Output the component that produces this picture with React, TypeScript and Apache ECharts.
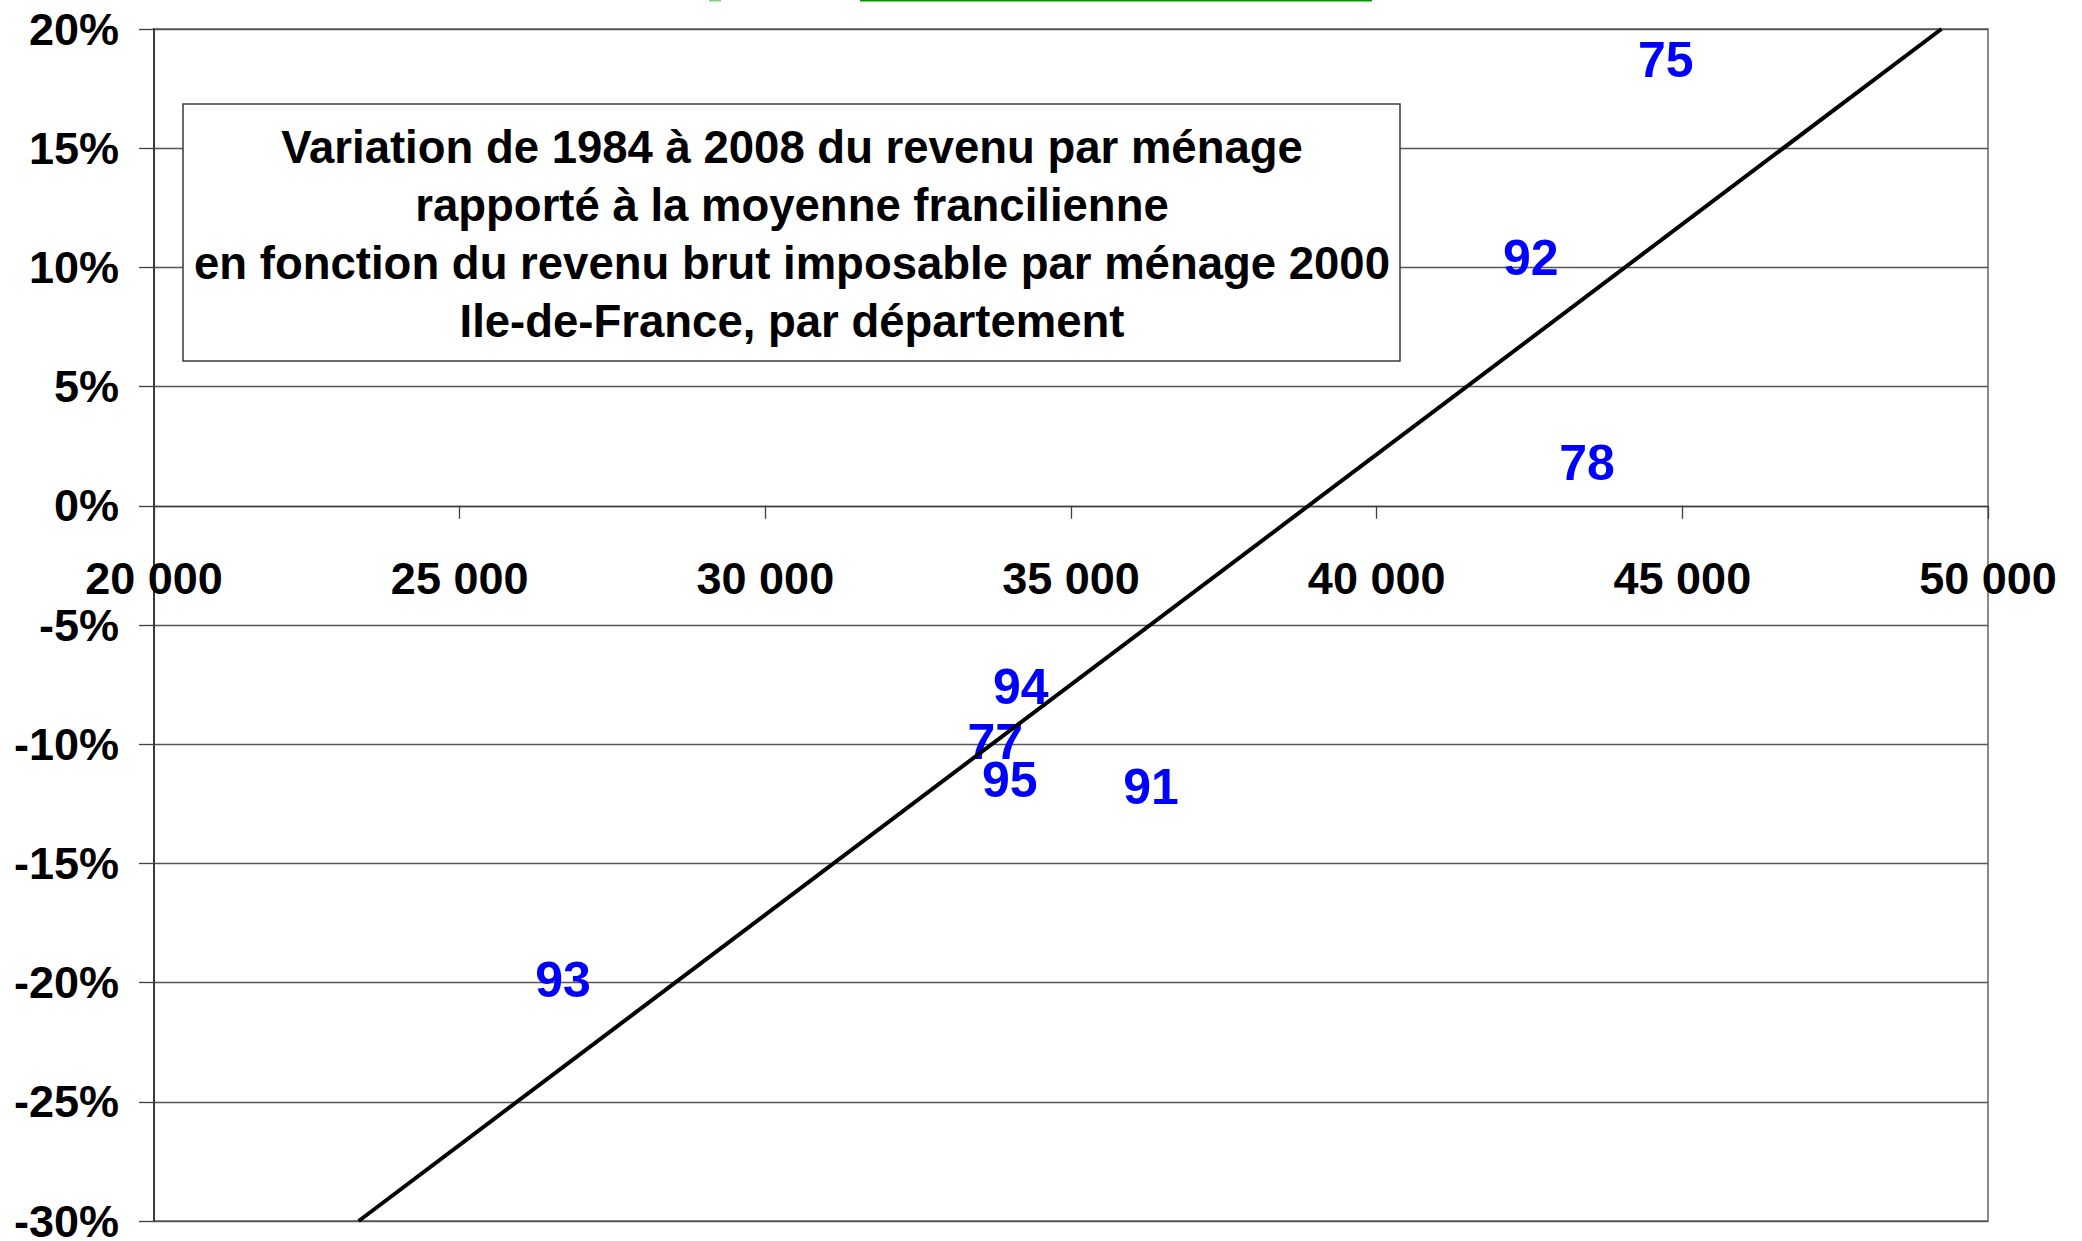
import React, { useEffect, useRef } from "react";
import * as echarts from "echarts";

// Departments (labels of the points)
const departements = ["75", "92", "78", "94", "77", "95", "91", "93"];
// Revenu brut imposable par ménage 2000 (euros)
const revenuParMenage2000 = [44730, 42520, 43440, 34180, 33760, 34000, 36310, 26690];
// Variation 1984-2008 du revenu par ménage rapporté à la moyenne francilienne (%)
const variation19842008 = [18.7, 10.4, 1.8, -7.6, -9.9, -11.5, -11.8, -19.9];

// X axis tick values (labels drawn on the 0% line)
const xTickValues = [20000, 25000, 30000, 35000, 40000, 45000, 50000];

const titleLines = [
  "Variation de 1984 à 2008 du revenu par ménage",
  "rapporté à la moyenne francilienne",
  "en fonction du revenu brut imposable par ménage 2000",
  "Ile-de-France, par département",
];

const X_MIN = 20000;
const X_MAX = 50000;
const X_STEP = 5000;
const Y_MIN = -30;
const Y_MAX = 20;
const Y_STEP = 5;

const FONT = "'Liberation Sans', Arial, Helvetica, sans-serif";

function linearFit(xs: number[], ys: number[]) {
  const n = xs.length;
  const mx = xs.reduce((a, b) => a + b, 0) / n;
  const my = ys.reduce((a, b) => a + b, 0) / n;
  let sxy = 0;
  let sxx = 0;
  for (let i = 0; i < n; i++) {
    sxy += (xs[i] - mx) * (ys[i] - my);
    sxx += (xs[i] - mx) * (xs[i] - mx);
  }
  const slope = sxy / sxx;
  const intercept = my - slope * mx;
  return { slope, intercept };
}

function formatThousands(v: number) {
  return String(v).replace(/\B(?=(\d{3})+(?!\d))/g, " ");
}

export default function App() {
  const ref = useRef<HTMLDivElement>(null);

  useEffect(() => {
    if (!ref.current) return;
    const chart = echarts.init(ref.current, undefined, { renderer: "svg" });

    const { slope, intercept } = linearFit(revenuParMenage2000, variation19842008);
    const xAt = (y: number) => Math.min(X_MAX, Math.max(X_MIN, (y - intercept) / slope));
    const xa = xAt(Y_MIN);
    const xb = xAt(Y_MAX);
    const trend = [
      [xa, slope * xa + intercept],
      [xb, slope * xb + intercept],
    ];

    const points = departements.map((d, i) => ({
      name: d,
      value: [revenuParMenage2000[i], variation19842008[i]],
    }));

    const tickPoints = xTickValues.map((v) => ({
      name: formatThousands(v),
      value: [v, 0],
    }));

    chart.setOption({
      animation: false,
      backgroundColor: "#ffffff",
      grid: {
        left: 154,
        right: 94,
        top: 29,
        bottom: 20,
        containLabel: false,
        outerBoundsMode: "none",
        show: true,
        borderColor: "#8a8a8a",
        borderWidth: 2,
        backgroundColor: "transparent",
      },
      xAxis: {
        type: "value",
        min: X_MIN,
        max: X_MAX,
        interval: X_STEP,
        axisLine: { show: true, onZero: true, lineStyle: { color: "#404040", width: 1.3 } },
        axisTick: { show: true, inside: false, length: 13, lineStyle: { color: "#404040", width: 1.3 } },
        axisLabel: { show: false },
        splitLine: { show: false },
      },
      yAxis: {
        type: "value",
        min: Y_MIN,
        max: Y_MAX,
        interval: Y_STEP,
        axisLine: { show: true, onZero: false, lineStyle: { color: "#3a3a3a", width: 2 } },
        axisTick: { show: true, inside: false, length: 15, lineStyle: { color: "#404040", width: 1.3 } },
        axisLabel: {
          show: true,
          margin: 35,
          color: "#000000",
          fontFamily: FONT,
          fontWeight: "bold",
          fontSize: 45,
          formatter: (v: number) => `${v}%`,
        },
        splitLine: { show: true, lineStyle: { color: "#555555", width: 1.3 } },
      },
      series: [
        {
          type: "scatter",
          name: "axisLabels",
          z: 4,
          clip: false,
          silent: true,
          data: tickPoints,
          symbol: "circle",
          symbolSize: 0,
          itemStyle: { color: "transparent", opacity: 1 },
          emphasis: { disabled: true },
          label: {
            show: true,
            position: "bottom",
            distance: 50,
            formatter: "{b}",
            color: "#000000",
            opacity: 1,
            fontFamily: FONT,
            fontWeight: "bold",
            fontSize: 45,
            textBorderWidth: 0,
          },
        },
        {
          type: "scatter",
          z: 2,
          clip: false,
          data: points,
          symbol: "circle",
          symbolSize: 1,
          itemStyle: { color: "transparent", opacity: 1 },
          emphasis: { disabled: true },
          label: {
            show: true,
            position: "inside",
            formatter: "{b}",
            color: "#0000ff",
            opacity: 1,
            fontFamily: FONT,
            fontWeight: "bold",
            fontSize: 50,
            textBorderWidth: 0,
            textBorderColor: "transparent",
          },
        },
        {
          type: "line",
          z: 3,
          data: trend,
          showSymbol: false,
          symbol: "none",
          clip: true,
          lineStyle: { color: "#000000", width: 4 },
        },
      ],
      graphic: [
        {
          type: "rect",
          z: 100,
          shape: { x: 183, y: 104, width: 1217, height: 257 },
          style: { fill: "#ffffff", stroke: "#3a3a3a", lineWidth: 1.5 },
        },
        {
          type: "text",
          z: 101,
          x: 792,
          y: 234,
          style: {
            text: titleLines.join("\n"),
            fill: "#000000",
            font: `bold 45.5px ${FONT}`,
            lineHeight: 58,
            align: "center",
            verticalAlign: "middle",
          },
        },
        {
          type: "rect",
          z: 100,
          shape: { x: 860, y: 0, width: 512, height: 1.5 },
          style: { fill: "#009900" },
        },
        {
          type: "rect",
          z: 100,
          shape: { x: 709, y: 0, width: 12, height: 1.5 },
          style: { fill: "#7fcf7f" },
        },
      ],
    });

    return () => chart.dispose();
  }, []);

  return (
    <div
      ref={ref}
      style={{ position: "fixed", left: 0, top: 0, width: 2082, height: 1241, background: "#ffffff" }}
    />
  );
}
